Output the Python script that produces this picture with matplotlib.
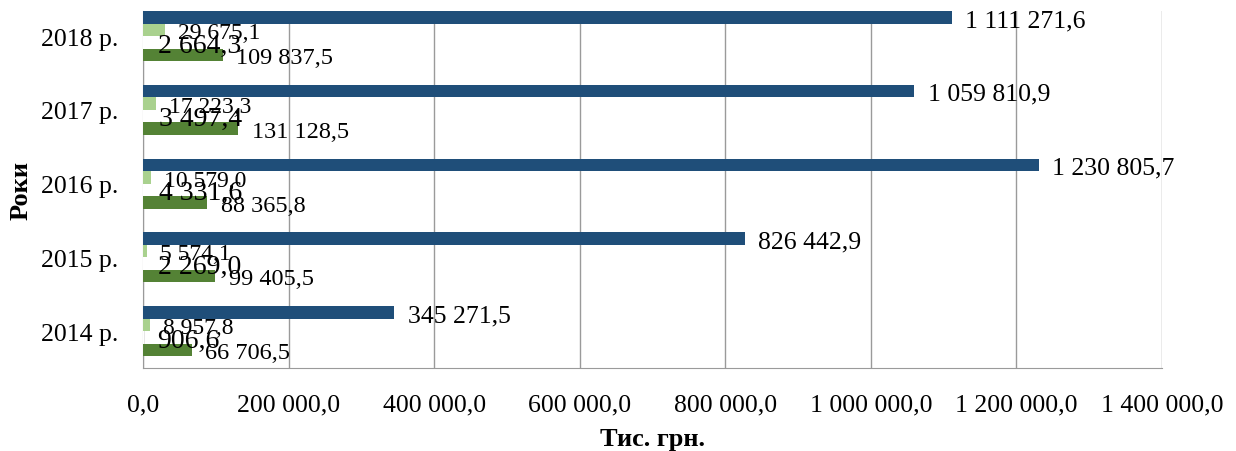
import numpy as np
from matplotlib import pyplot as plt

# дані з діаграми, тис. грн.
roky = ["2014 р.", "2015 р.", "2016 р.", "2017 р.", "2018 р."]
riad1 = [345271.5, 826442.9, 1230805.7, 1059810.9, 1111271.6]
riad2 = [8957.8, 5574.1, 10579.0, 17223.3, 29675.1]
riad3 = [906.6, 2269.0, 4331.6, 3497.4, 2664.3]
riad4 = [66706.5, 99405.5, 88365.8, 131128.5, 109837.5]
xticks = [0, 200000, 400000, 600000, 800000, 1000000, 1200000, 1400000]

def fmt(v, dec=1):
    s = f"{v:,.{dec}f}"
    return s.replace(",", " ").replace(".", ",")

plt.rcParams['font.family'] = ['Liberation Serif', 'DejaVu Serif']

fig = plt.figure(figsize=(12.36, 4.52), dpi=100)
ax = fig.add_axes([143 / 1236, 1 - 369 / 452, (1162 - 143) / 1236, (369 - 12) / 452])

y = np.arange(len(roky))
h = 0.17
series = [(riad1, '#1F4E79', 18.5), (riad2, '#A9D18E', 17), (riad3, 'white', 20), (riad4, '#548235', 17.5)]
for i, (vals, col, fs) in enumerate(series):
    pos = y + (1.5 - i) * h
    ax.barh(pos, vals, height=h, color=col, zorder=3)
    for p, v in zip(pos, vals):
        ax.annotate(fmt(v), (v, p), xytext=(9.5, -2), textcoords='offset points',
                    ha='left', va='center', fontsize=fs, zorder=4)

ax.set_ylim(-0.5, 4 + 2 * h)
ax.set_xlim(0, 1400000)
ax.set_yticks(y)
ax.set_yticklabels(roky, fontsize=18.5)
ax.set_xticks(xticks)
ax.set_xticklabels([fmt(t) for t in xticks], fontsize=18.5)
ax.tick_params(length=0, axis='x', pad=18)
ax.tick_params(length=0, axis='y', pad=18)
ax.grid(axis='x', color='#9a9a9a', linewidth=1, zorder=0)
for s in ['top', 'right']:
    ax.spines[s].set_visible(False)
for s in ['left', 'bottom']:
    ax.spines[s].set_color('#9a9a9a')
ax.set_xlabel("Тис. грн.", fontsize=19, fontweight='bold', labelpad=9)
ax.set_ylabel("Роки", fontsize=19, fontweight='bold', labelpad=6)

fig.savefig("out.png", dpi=100)
